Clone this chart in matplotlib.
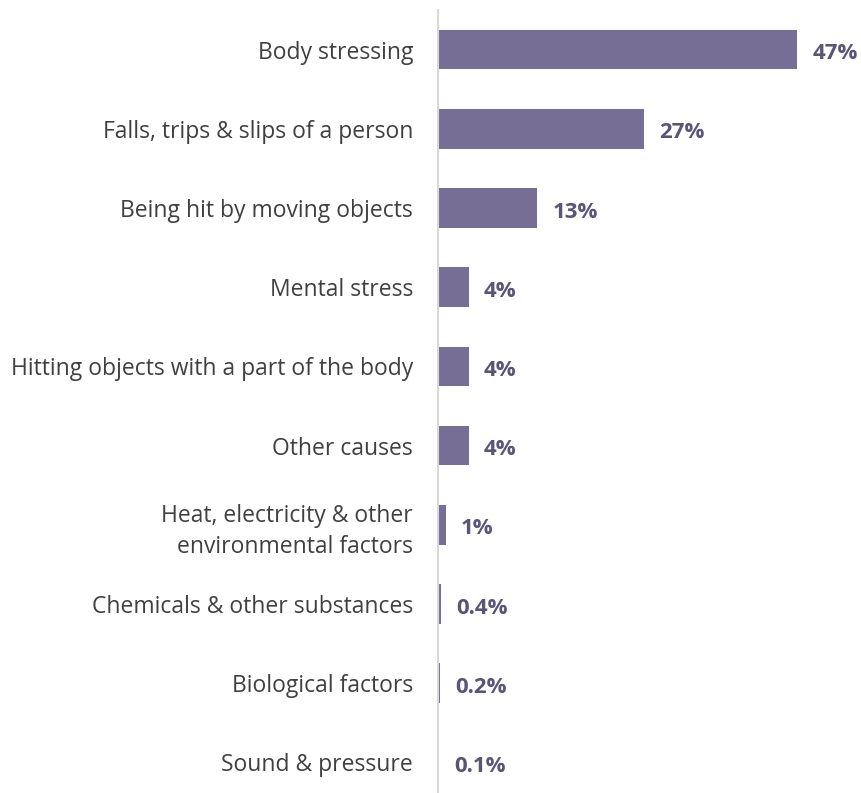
import numpy as np
import matplotlib
matplotlib.use('Agg')
import matplotlib.pyplot as plt

# ==== data ====
causes = ['Body stressing', 'Falls, trips & slips of a person',
          'Being hit by moving objects', 'Mental stress',
          'Hitting objects with a part of the body', 'Other causes',
          'Heat, electricity & other\nenvironmental factors',
          'Chemicals & other substances', 'Biological factors',
          'Sound & pressure']
share = [47, 27, 13, 4, 4, 4, 1, 0.4, 0.2, 0.1]   # percent of claims
share_lbl = ['47%', '27%', '13%', '4%', '4%', '4%', '1%', '0.4%', '0.2%', '0.1%']

bar_col = '#776e96'
lbl_col = '#595478'
txt_col = '#404040'

plt.rcParams['font.family'] = ['Open Sans', 'DejaVu Sans']

# ==== plotting ====
fig = plt.figure(figsize=(8.61, 7.93), dpi=100)
ax = fig.add_axes([438/861, -19/793, 423/861, 802/793])

ypos = np.arange(len(causes))
ax.barh(ypos, share, height=0.5, color=bar_col)

# value labels sit just right of each bar, nudged down a touch
for y, v, s in zip(ypos, share, share_lbl):
    ax.annotate(s, xy=(v, y), xytext=(11, -3), textcoords='offset points',
                ha='left', va='center', fontsize=16, fontweight='bold',
                color=lbl_col)

ax.set_yticks(ypos)
ax.set_yticklabels(causes, fontsize=16.5, color=txt_col, linespacing=1.4)
ax.tick_params(axis='y', length=0, pad=18)
ax.set_xticks([])
ax.set_xlim(0, 55.4)
ax.set_ylim(9.626, -0.5)

for sp in ['top', 'right', 'bottom']:
    ax.spines[sp].set_visible(False)
ax.spines['left'].set_color('#d9d9d9')
ax.spines['left'].set_linewidth(1.5)

fig.savefig('out.png', dpi=100)
